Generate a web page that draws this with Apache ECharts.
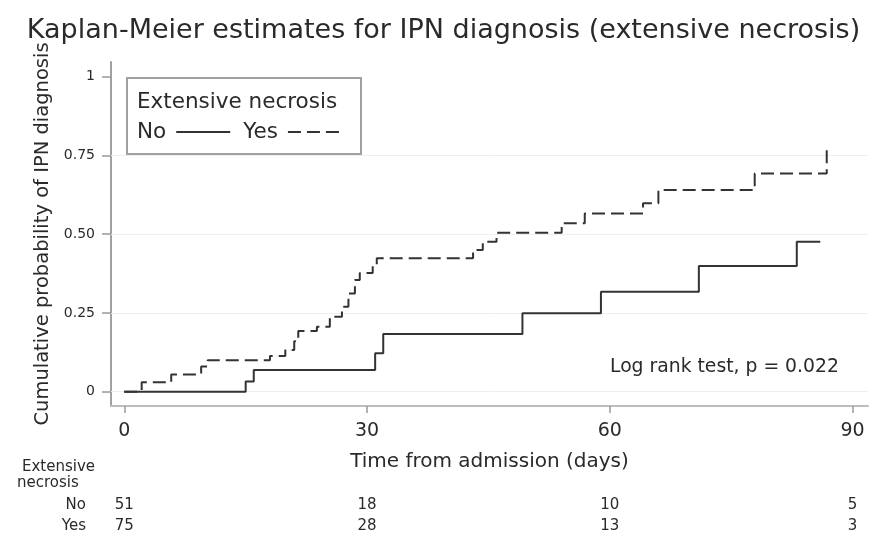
<!DOCTYPE html>
<html>
<head>
<meta charset="utf-8">
<script src="https://cdn.jsdelivr.net/npm/echarts@6/dist/echarts.min.js"></script>
<style>
html,body{margin:0;padding:0;background:#fff;}
#c{width:887px;height:539px;}
</style>
</head>
<body>
<div id="c"></div>
<script>
// ---- data ----
const titleText = 'Kaplan-Meier estimates for IPN diagnosis (extensive necrosis)';
const xTitle = 'Time from admission (days)';
const yTitle = 'Cumulative probability of IPN diagnosis';
const legendTitle = 'Extensive necrosis';
const groupNames = ['No', 'Yes'];
const xTicks = [0, 30, 60, 90];
const yTicks = [0, 0.25, 0.5, 0.75, 1];
const yTickLabels = ['0', '0.25', '0.50', '0.75', '1'];
const gridValues = [0, 0.25, 0.5, 0.75];

const timeNo = [0, 15.0, 16.0, 31.0, 32.0, 49.2, 58.9, 71.0, 83.1, 86.0];
const probNo = [0, 0.032, 0.069, 0.122, 0.183, 0.249, 0.317, 0.399, 0.476, 0.476];

const timeYes = [0, 2.15, 5.8, 9.5, 10.3, 18.0, 19.9, 21.0, 21.5, 23.8, 25.4, 26.9, 27.7, 28.5, 29.1, 30.7, 31.2, 43.1, 44.3, 46.0, 54.05, 56.9, 64.1, 66.0, 77.9, 86.8];
const probYes = [0, 0.030, 0.055, 0.080, 0.100, 0.113, 0.132, 0.160, 0.193, 0.206, 0.238, 0.270, 0.312, 0.355, 0.377, 0.403, 0.424, 0.450, 0.476, 0.505, 0.535, 0.566, 0.598, 0.640, 0.693, 0.767];

const logRankText = 'Log rank test, p = 0.022';
const riskHeader = ['Extensive', 'necrosis'];
const riskTimes = [0, 30, 60, 90];
const riskNo = [51, 18, 10, 5];
const riskYes = [75, 28, 13, 3];

// ---- chart ----
const FONT = 'DejaVu Sans';
const TXT = '#2a2a2a';
const chart = echarts.init(document.getElementById('c'), null, {renderer: 'canvas'});

function pairs(t, p) { return t.map((v, i) => [v, p[i]]); }

const option = {
  animation: false,
  backgroundColor: '#ffffff',
  title: {
    text: titleText,
    left: 'center',
    top: 12,
    textStyle: {fontFamily: FONT, fontSize: 27, fontWeight: 'normal', color: TXT}
  },
  grid: {left: 111, top: 62, right: 19, bottom: 133, containLabel: false},
  xAxis: {
    type: 'value',
    min: -1.64, max: 91.9,
    name: xTitle,
    nameLocation: 'middle',
    nameGap: 46,
    nameTextStyle: {fontFamily: FONT, fontSize: 20, color: TXT},
    axisLine: {show: true, onZero: false, lineStyle: {color: '#bdbdbd', width: 2}},
    axisTick: {show: true, customValues: xTicks, length: 7, lineStyle: {color: '#999', width: 1.5}},
    axisLabel: {customValues: xTicks, margin: 16, fontFamily: FONT, fontSize: 19, color: TXT},
    splitLine: {show: false}
  },
  yAxis: {
    type: 'value',
    min: -0.0454, max: 1.0467,
    name: yTitle,
    nameLocation: 'middle',
    nameGap: 57,
    nameRotate: 90,
    nameTextStyle: {fontFamily: FONT, fontSize: 19.5, color: TXT},
    axisLine: {show: true, onZero: false, lineStyle: {color: '#a0a0a0', width: 2}},
    axisTick: {show: true, customValues: yTicks, length: 9, lineStyle: {color: '#999', width: 1.5}},
    axisLabel: {
      customValues: yTicks, margin: 16, fontFamily: FONT, fontSize: 14, color: TXT,
      formatter: function (v) {
        for (let i = 0; i < yTicks.length; i++) if (Math.abs(yTicks[i] - v) < 1e-9) return yTickLabels[i];
        return '';
      }
    },
    splitLine: {show: false}
  },
  legend: {
    show: true,
    left: 137, top: 121,
    orient: 'horizontal',
    align: 'right',
    padding: 0,
    itemGap: 12,
    itemWidth: 54,
    itemHeight: 14,
    itemStyle: {color: 'rgba(0,0,0,0)', borderColor: 'rgba(0,0,0,0)', borderWidth: 0},
    textStyle: {fontFamily: FONT, fontSize: 21.5, color: TXT, padding: [0, 5, 0, 0]},
    data: groupNames
  },
  series: [
    {
      name: groupNames[0],
      type: 'line',
      step: 'end',
      symbol: 'none',
      data: pairs(timeNo, probNo),
      lineStyle: {color: '#333333', width: 2, type: 'solid'},
      itemStyle: {color: '#333333'},
      z: 3,
      markLine: {
        silent: true,
        symbol: 'none',
        label: {show: false},
        lineStyle: {color: '#eeeeee', width: 1, type: 'solid'},
        data: gridValues.map(v => ({yAxis: v})),
        z: 1
      }
    },
    {
      name: groupNames[1],
      type: 'line',
      step: 'end',
      symbol: 'none',
      data: pairs(timeYes, probYes),
      lineStyle: {color: '#333333', width: 2, type: [13, 6]},
      itemStyle: {color: '#333333'},
      z: 3
    }
  ]
};
chart.setOption(option);

// at-risk table & annotations (x positions via the chart's own x scale)
const rowY = [505, 526];
const rowData = [riskNo, riskYes];
const g = [];
g.push({type: 'rect', z: 0, shape: {x: 127, y: 78, width: 234, height: 76},
  style: {fill: '#ffffff', stroke: '#a0a0a0', lineWidth: 2}});
g.push({type: 'text', z: 5, x: 137, y: 102,
  style: {text: legendTitle, fontFamily: FONT, fontSize: 21.5, fill: TXT, textVerticalAlign: 'middle', textAlign: 'left'}});
g.push({type: 'text', z: 5, x: 610, y: 367,
  style: {text: logRankText, fontFamily: FONT, fontSize: 18.8, fill: TXT, textVerticalAlign: 'middle', textAlign: 'left'}});
g.push({type: 'text', z: 5, x: 22, y: 467,
  style: {text: riskHeader[0], fontFamily: FONT, fontSize: 15, fill: TXT, textVerticalAlign: 'middle', textAlign: 'left'}});
g.push({type: 'text', z: 5, x: 17, y: 483,
  style: {text: riskHeader[1], fontFamily: FONT, fontSize: 15, fill: TXT, textVerticalAlign: 'middle', textAlign: 'left'}});
groupNames.forEach((nm, r) => {
  g.push({type: 'text', z: 5, x: 86, y: rowY[r],
    style: {text: nm, fontFamily: FONT, fontSize: 15, fill: TXT, textVerticalAlign: 'middle', textAlign: 'right'}});
  riskTimes.forEach((t, i) => {
    const px = chart.convertToPixel({xAxisIndex: 0}, t);
    g.push({type: 'text', z: 5, x: px, y: rowY[r],
      style: {text: String(rowData[r][i]), fontFamily: FONT, fontSize: 15, fill: TXT, textVerticalAlign: 'middle', textAlign: 'center'}});
  });
});
chart.setOption({graphic: g});
</script>
</body>
</html>
